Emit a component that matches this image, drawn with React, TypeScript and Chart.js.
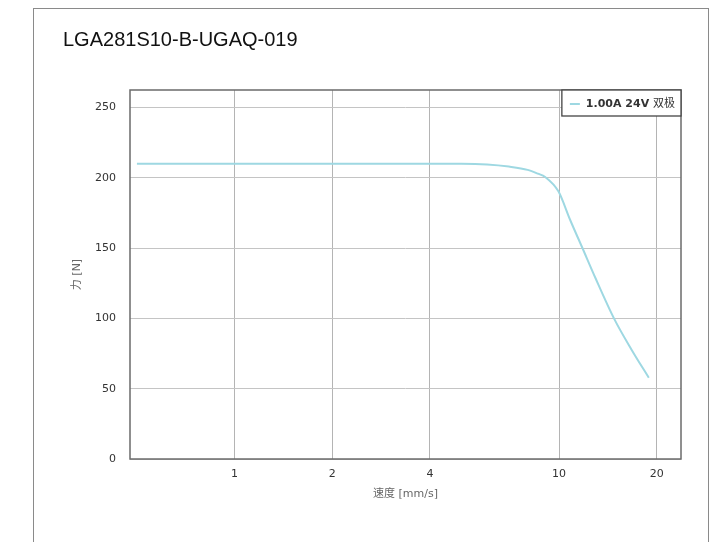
import React, { useEffect, useRef } from "react";
import { Chart, registerables } from "chart.js";

Chart.register(...registerables);

const chartTitle = "LGA281S10-B-UGAQ-019";
const seriesLabelBold = "1.00A 24V ";
const seriesLabelRest = "双极";
const xAxisTitle = "速度 [mm/s]";
const yAxisTitle = "力 [N]";
const speeds = [0.5, 1, 2, 4, 5, 6, 7, 8, 8.6, 9.06, 9.95, 10.81, 11.8, 12.91, 14.8, 16.74, 18.9];
const forces = [210, 210, 210, 210, 210, 209.5, 208, 205.7, 203, 200.6, 190.4, 170.2, 150.1, 129.3, 99.5, 77.6, 57.8];
const xTicks = [1, 2, 4, 10, 20];
const yTicks = [0, 50, 100, 150, 200, 250];
const xMin = 0.476;
const xMax = 23.75;
const yMax = 262.5;

const LINE_COLOR = "rgb(158,216,226)";
const TICK_FONT = { family: "'DejaVu Sans', sans-serif", size: 11 };

const frameAndLegend = {
  id: "frameAndLegend",
  afterDraw(chart: any) {
    const { ctx, chartArea } = chart;
    ctx.save();
    ctx.strokeStyle = "#6b6b6b";
    ctx.lineWidth = 1.5;
    ctx.strokeRect(chartArea.left, chartArea.top, chartArea.right - chartArea.left, chartArea.bottom - chartArea.top);
    ctx.font = "bold 11px 'DejaVu Sans', sans-serif";
    const w1 = ctx.measureText(seriesLabelBold).width;
    ctx.font = "11px 'DejaVu Sans', 'Noto Sans CJK SC', sans-serif";
    const w2 = ctx.measureText(seriesLabelRest).width;
    const boxW = 8 + 10 + 6 + w1 + w2 + 6;
    const boxH = 26;
    const bx = chartArea.right - boxW;
    const by = chartArea.top;
    ctx.fillStyle = "#ffffff";
    ctx.fillRect(bx, by, boxW, boxH);
    ctx.strokeStyle = "#444444";
    ctx.lineWidth = 1.3;
    ctx.strokeRect(bx, by, boxW, boxH);
    const cy = by + boxH / 2 + 1;
    ctx.strokeStyle = LINE_COLOR;
    ctx.lineWidth = 2;
    ctx.beginPath();
    ctx.moveTo(bx + 8, cy);
    ctx.lineTo(bx + 18, cy);
    ctx.stroke();
    ctx.fillStyle = "#333333";
    ctx.textBaseline = "middle";
    ctx.textAlign = "left";
    ctx.font = "bold 11px 'DejaVu Sans', sans-serif";
    ctx.fillText(seriesLabelBold, bx + 24, cy);
    ctx.font = "11px 'DejaVu Sans', 'Noto Sans CJK SC', sans-serif";
    ctx.fillText(seriesLabelRest, bx + 24 + w1, cy);
    ctx.restore();
  },
};

export default function App() {
  const ref = useRef<HTMLCanvasElement | null>(null);
  useEffect(() => {
    document.body.style.overflow = "hidden";
    document.documentElement.style.overflow = "hidden";
    const canvas = ref.current;
    if (!canvas) return;
    const chart = new Chart(canvas, {
      type: "line",
      data: {
        datasets: [
          {
            label: seriesLabelBold + seriesLabelRest,
            data: speeds.map((s, i) => ({ x: s, y: forces[i] })),
            borderColor: LINE_COLOR,
            backgroundColor: LINE_COLOR,
            borderWidth: 2,
            pointRadius: 0,
            cubicInterpolationMode: "monotone",
            fill: false,
          },
        ],
      },
      options: {
        responsive: false,
        animation: false,
        layout: { padding: { left: 29, right: 27, top: 0, bottom: 33 } },
        plugins: {
          legend: { display: false },
          tooltip: { enabled: false },
          title: {
            display: true,
            text: chartTitle,
            align: "start",
            color: "#111111",
            font: { family: "'Liberation Sans', Arial, sans-serif", size: 20, weight: "normal" },
            padding: { top: 19, bottom: 38 },
          },
        },
        scales: {
          x: {
            type: "logarithmic",
            min: xMin,
            max: xMax,
            afterBuildTicks: (scale: any) => {
              scale.ticks = xTicks.map((v) => ({ value: v }));
            },
            afterFit: (scale: any) => {
              scale.height = 50;
            },
            ticks: {
              autoSkip: false,
              maxRotation: 0,
              padding: 9,
              color: "#333333",
              font: TICK_FONT,
              callback: (v: any) => String(v),
            },
            grid: { color: "#b4b4b4", lineWidth: 1, drawTicks: false },
            border: { display: false },
            title: {
              display: true,
              text: xAxisTitle,
              color: "#666666",
              font: { family: "'DejaVu Sans', 'Noto Sans CJK SC', sans-serif", size: 11 },
              padding: { top: 0, bottom: 8 },
            },
          },
          y: {
            type: "linear",
            min: 0,
            max: yMax,
            afterBuildTicks: (scale: any) => {
              scale.ticks = yTicks.map((v) => ({ value: v }));
            },
            afterFit: (scale: any) => {
              scale.width = 67;
            },
            ticks: {
              padding: 14,
              color: "#333333",
              font: TICK_FONT,
              callback: (v: any) => String(v),
            },
            grid: { color: "#c4c4c4", lineWidth: 1, drawTicks: false },
            border: { display: false },
            title: {
              display: true,
              text: yAxisTitle,
              color: "#666666",
              font: { family: "'DejaVu Sans', 'Noto Sans CJK SC', sans-serif", size: 11 },
              padding: { top: 8, bottom: 0 },
            },
          },
        },
      },
      plugins: [frameAndLegend],
    } as any);
    return () => chart.destroy();
  }, []);

  return (
    <div
      style={{
        marginLeft: 25,
        width: 674,
        height: 600,
        border: "1px solid #8a8a8a",
        borderBottom: "none",
        background: "#ffffff",
      }}
    >
      <canvas ref={ref} width={674} height={533} style={{ display: "block" }} />
    </div>
  );
}
